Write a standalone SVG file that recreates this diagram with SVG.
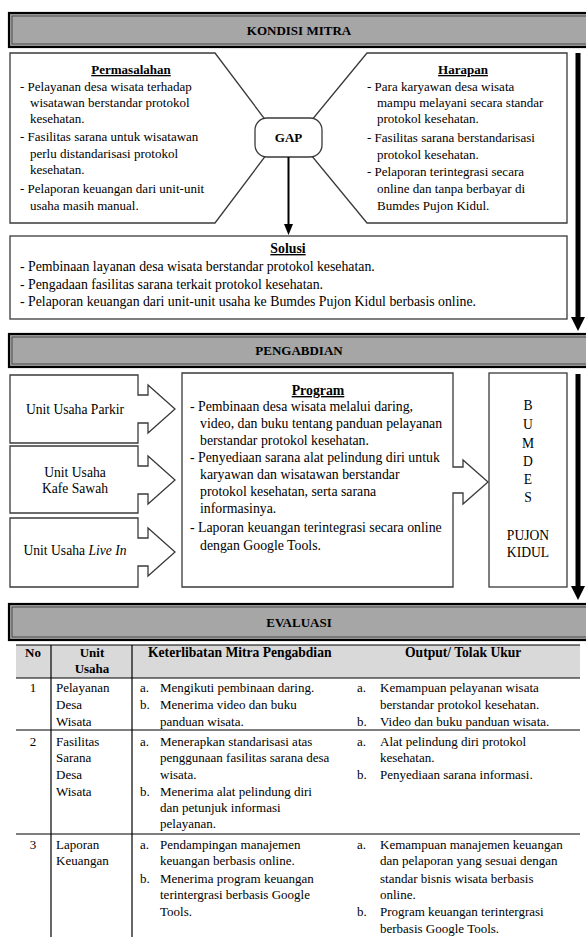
<svg xmlns="http://www.w3.org/2000/svg" width="586" height="937" viewBox="0 0 586 937">
<style>
.t{font-family:"Liberation Serif","Times New Roman",serif;font-size:13px;fill:#000}
.l{font-size:13.8px}
.m{font-size:13.6px}
.b{font-weight:bold}
.u{text-decoration:underline}
.c{text-anchor:middle}
.box{fill:#fff;stroke:#3a3a3a;stroke-width:1.3}
.hdr{fill:#a6a6a6;stroke:#000;stroke-width:2.2}
.hin{fill:none;stroke:#333;stroke-width:0.8}
.ln{stroke:#000;stroke-width:1.2;fill:none}
</style>
<rect width="586" height="937" fill="#fff"/>

<g id="kondisi-mitra">
<rect class="hdr" x="9" y="13" width="590" height="34"/>
<rect class="hin" x="12" y="16" width="590" height="28"/>
<text class="t b c" x="299" y="35">KONDISI MITRA</text>
</g>

<g id="permasalahan">
<polygon class="box" points="10,53 215,53 279,138 215,223 10,223"/>
<text class="t b c u" x="131" y="74">Permasalahan</text>
<text class="t" x="20" y="91">- Pelayanan desa wisata terhadap</text>
<text class="t" x="30" y="107">wisatawan berstandar protokol</text>
<text class="t" x="30" y="123">kesehatan.</text>
<text class="t" x="20" y="141">- Fasilitas sarana untuk wisatawan</text>
<text class="t" x="30" y="158">perlu distandarisasi protokol</text>
<text class="t" x="30" y="174">kesehatan.</text>
<text class="t" x="20" y="193">- Pelaporan keuangan dari unit-unit</text>
<text class="t" x="30" y="210">usaha masih manual.</text>
</g>

<g id="harapan">
<polygon class="box" points="567,53 367,53 297,138 367,223 567,223"/>
<text class="t b c u" x="463" y="74">Harapan</text>
<text class="t" x="367" y="91">- Para karyawan desa wisata</text>
<text class="t" x="377" y="107">mampu melayani secara standar</text>
<text class="t" x="377" y="123">protokol kesehatan.</text>
<text class="t" x="367" y="142">- Fasilitas sarana berstandarisasi</text>
<text class="t" x="377" y="159">protokol kesehatan.</text>
<text class="t" x="367" y="176">- Pelaporan terintegrasi secara</text>
<text class="t" x="377" y="193">online dan tanpa berbayar di</text>
<text class="t" x="377" y="210">Bumdes Pujon Kidul.</text>
</g>

<g id="gap">
<rect class="box" x="255" y="118" width="67" height="39" rx="12"/>
<text class="t b c" x="288.5" y="142">GAP</text>
</g>

<g id="solusi">
<rect class="box" x="10" y="236" width="557" height="83"/>
<text class="t l b c u" x="288" y="253">Solusi</text>
<text class="t l" x="20" y="271">- Pembinaan layanan desa wisata berstandar protokol kesehatan.</text>
<text class="t l" x="20" y="289">- Pengadaan fasilitas sarana terkait protokol kesehatan.</text>
<text class="t l" x="20" y="306">- Pelaporan keuangan dari unit-unit usaha ke Bumdes Pujon Kidul berbasis online.</text>
</g>

<g id="pengabdian">
<rect class="hdr" x="9" y="334" width="590" height="33"/>
<rect class="hin" x="12" y="337" width="590" height="27"/>
<text class="t b c" x="299" y="355">PENGABDIAN</text>
</g>

<g id="unit-parkir">
<polygon class="box" points="10,375 138,375 138,395 148,395 148,385 175,409 148,433 148,423 138,423 138,443 10,443"/>
<text class="t m c" x="75" y="414">Unit Usaha Parkir</text>
</g>

<g id="unit-kafe">
<polygon class="box" points="10,446 138,446 138,466 148,466 148,456 175,480 148,504 148,494 138,494 138,513 10,513"/>
<text class="t m c" x="75" y="477">Unit Usaha</text>
<text class="t m c" x="75" y="493">Kafe Sawah</text>
</g>

<g id="unit-livein">
<polygon class="box" points="10,518 138,518 138,538 148,538 148,528 175,552 148,576 148,566 138,566 138,587 10,587"/>
<text class="t m c" x="75" y="555">Unit Usaha <tspan font-style="italic">Live In</tspan></text>
</g>

<g id="program">
<polygon class="box" points="182,373 453,373 453,467 463,467 463,460 488,482 463,504 463,493 453,493 453,587 182,587"/>
<text class="t l b c u" x="318" y="395">Program</text>
<text class="t l" x="190" y="411">- Pembinaan desa wisata melalui daring,</text>
<text class="t l" x="200" y="428">video, dan buku tentang panduan pelayanan</text>
<text class="t l" x="200" y="445">berstandar protokol kesehatan.</text>
<text class="t l" x="190" y="462">- Penyediaan sarana alat pelindung diri untuk</text>
<text class="t l" x="200" y="479">karyawan dan wisatawan berstandar</text>
<text class="t l" x="200" y="496">protokol kesehatan, serta sarana</text>
<text class="t l" x="200" y="513">informasinya.</text>
<text class="t l" x="190" y="532">- Laporan keuangan terintegrasi secara online</text>
<text class="t l" x="200" y="550">dengan Google Tools.</text>
</g>

<g id="bumdes">
<rect class="box" x="489" y="373" width="78" height="214"/>
<text class="t m c" x="528" y="410">B</text>
<text class="t m c" x="528" y="429">U</text>
<text class="t m c" x="528" y="448">M</text>
<text class="t m c" x="528" y="466">D</text>
<text class="t m c" x="528" y="484">E</text>
<text class="t m c" x="528" y="502">S</text>
<text class="t m c" x="528" y="540">PUJON</text>
<text class="t m c" x="528" y="557">KIDUL</text>
</g>

<g id="evaluasi">
<rect class="hdr" x="9" y="604" width="590" height="36"/>
<rect class="hin" x="12" y="607" width="590" height="30"/>
<text class="t b c" x="299" y="627">EVALUASI</text>
</g>

<g id="tabel">
<rect x="16" y="645" width="564" height="33" fill="#d9d9d9"/>
<line class="ln" x1="16" y1="645" x2="580" y2="645"/>
<line class="ln" x1="16" y1="678" x2="580" y2="678" stroke-width="1.6"/>
<line class="ln" x1="16" y1="730" x2="580" y2="730" stroke-width="1.4"/>
<line class="ln" x1="16" y1="834" x2="580" y2="834" stroke-width="1.4"/>
<line class="ln" x1="51" y1="645" x2="51" y2="937"/>
<line class="ln" x1="132" y1="645" x2="132" y2="937"/>
<text class="t b c" x="33" y="657">No</text>
<text class="t b c" x="92" y="657">Unit</text>
<text class="t b c" x="92" y="673">Usaha</text>
<text class="t m b" x="148" y="657">Keterlibatan Mitra Pengabdian</text>
<text class="t m b" x="405" y="657">Output/ Tolak Ukur</text>

<text class="t c" x="33" y="692">1</text>
<text class="t" x="56" y="692">Pelayanan</text>
<text class="t" x="56" y="709">Desa</text>
<text class="t" x="56" y="726">Wisata</text>
<text class="t" x="140" y="692">a.</text><text class="t" x="160" y="692">Mengikuti pembinaan daring.</text>
<text class="t" x="140" y="709">b.</text><text class="t" x="160" y="709">Menerima video dan buku</text>
<text class="t" x="160" y="726">panduan wisata.</text>
<text class="t" x="357" y="692">a.</text><text class="t" x="380" y="692">Kemampuan pelayanan wisata</text>
<text class="t" x="380" y="709">berstandar protokol kesehatan.</text>
<text class="t" x="357" y="726">b.</text><text class="t" x="380" y="726">Video dan buku panduan wisata.</text>

<text class="t c" x="33" y="746">2</text>
<text class="t" x="56" y="746">Fasilitas</text>
<text class="t" x="56" y="762">Sarana</text>
<text class="t" x="56" y="779">Desa</text>
<text class="t" x="56" y="796">Wisata</text>
<text class="t" x="140" y="746">a.</text><text class="t" x="160" y="746">Menerapkan standarisasi atas</text>
<text class="t" x="160" y="762">penggunaan fasilitas sarana desa</text>
<text class="t" x="160" y="779">wisata.</text>
<text class="t" x="140" y="796">b.</text><text class="t" x="160" y="796">Menerima alat pelindung diri</text>
<text class="t" x="160" y="812">dan petunjuk informasi</text>
<text class="t" x="160" y="828">pelayanan.</text>
<text class="t" x="357" y="746">a.</text><text class="t" x="380" y="746">Alat pelindung diri protokol</text>
<text class="t" x="380" y="762">kesehatan.</text>
<text class="t" x="357" y="779">b.</text><text class="t" x="380" y="779">Penyediaan sarana informasi.</text>

<text class="t c" x="33" y="849">3</text>
<text class="t" x="56" y="849">Laporan</text>
<text class="t" x="56" y="865">Keuangan</text>
<text class="t" x="140" y="849">a.</text><text class="t" x="160" y="849">Pendampingan manajemen</text>
<text class="t" x="160" y="865">keuangan berbasis online.</text>
<text class="t" x="140" y="883">b.</text><text class="t" x="160" y="883">Menerima program keuangan</text>
<text class="t" x="160" y="899">terintergrasi berbasis Google</text>
<text class="t" x="160" y="916">Tools.</text>
<text class="t" x="357" y="849">a.</text><text class="t" x="380" y="849">Kemampuan manajemen keuangan</text>
<text class="t" x="380" y="865">dan pelaporan yang sesuai dengan</text>
<text class="t" x="380" y="883">standar bisnis wisata berbasis</text>
<text class="t" x="380" y="899">online.</text>
<text class="t" x="357" y="916">b.</text><text class="t" x="380" y="916">Program keuangan terintergrasi</text>
<text class="t" x="380" y="933">berbasis Google Tools.</text>
</g>

<g id="connectors">
<line x1="288.5" y1="157" x2="288.5" y2="226" stroke="#000" stroke-width="2"/>
<polygon points="284,224 293,224 288.5,235" fill="#000"/>
<line x1="578" y1="53" x2="578" y2="318" stroke="#000" stroke-width="5"/>
<polygon points="571,317 585,317 578,331" fill="#000"/>
<line x1="578" y1="374" x2="578" y2="587" stroke="#000" stroke-width="5"/>
<polygon points="571,586 585,586 578,600" fill="#000"/>
</g>
</svg>
